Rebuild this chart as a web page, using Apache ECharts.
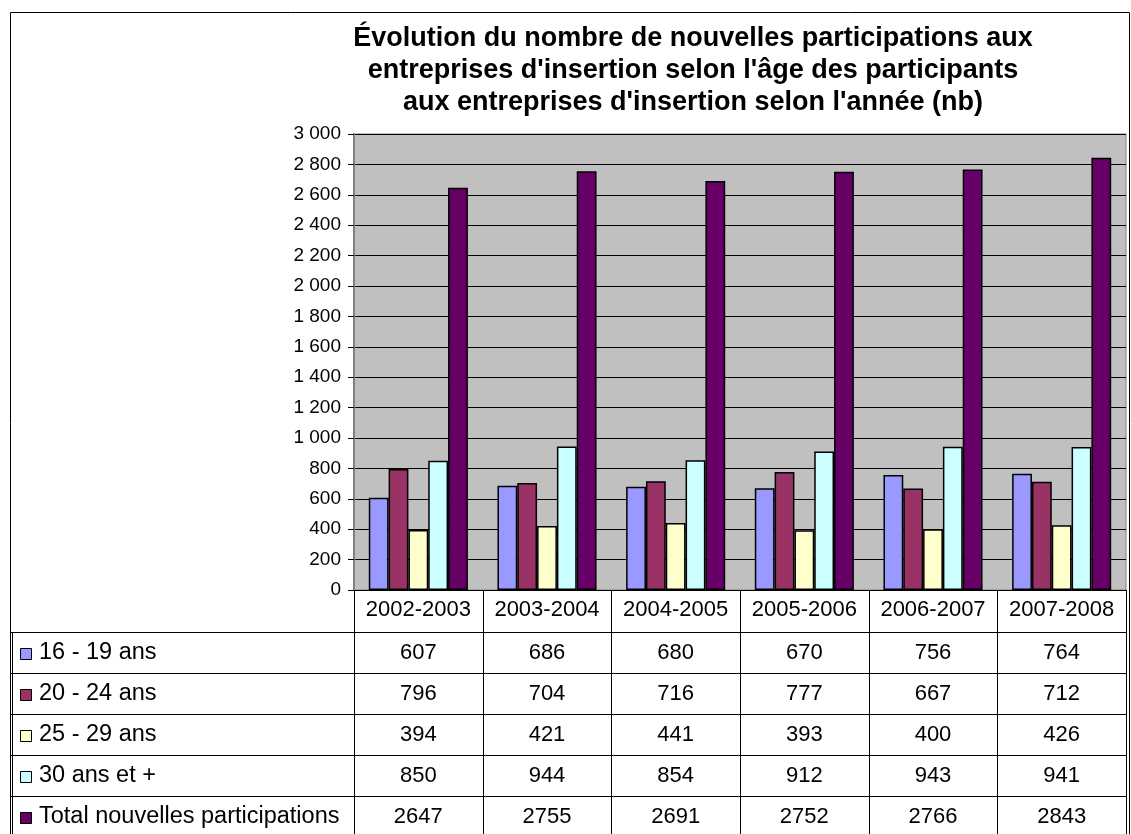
<!DOCTYPE html>
<html>
<head>
<meta charset="utf-8">
<script src="https://cdn.jsdelivr.net/npm/echarts@6/dist/echarts.min.js"></script>
<style>
  html, body { margin: 0; padding: 0; background: #fff; }
  #main { width: 1131px; height: 834px; }
</style>
</head>
<body>
<div id="main"></div>
<script>
// donnees du graphique
var categories = ['2002-2003', '2003-2004', '2004-2005', '2005-2006', '2006-2007', '2007-2008'];
var seriesNames = ['16 - 19 ans', '20 - 24 ans', '25 - 29 ans', '30 ans et +', 'Total nouvelles participations'];
var age16_19 = [607, 686, 680, 670, 756, 764];
var age20_24 = [796, 704, 716, 777, 667, 712];
var age25_29 = [394, 421, 441, 393, 400, 426];
var age30plus = [850, 944, 854, 912, 943, 941];
var totalPart = [2647, 2755, 2691, 2752, 2766, 2843];
var yTicks = [0, 200, 400, 600, 800, 1000, 1200, 1400, 1600, 1800, 2000, 2200, 2400, 2600, 2800, 3000];

var colors = ['#9999FF', '#993366', '#FFFFCC', '#CCFFFF', '#660066'];
var allValues = [age16_19, age20_24, age25_29, age30plus, totalPart];

var font = 'Arial, "Liberation Sans", sans-serif';
var gridLeft = 354, gridRight = 1126, gridTop = 134, gridBottom = 590;
var headerBottom = 632, rowH = 41;
var colW = (gridRight - gridLeft) / categories.length;

function fmt(v) {
    return String(v).replace(/\B(?=(\d{3})+(?!\d))/g, ' ');
}

var myChart = echarts.init(document.getElementById('main'));

// tableau de donnees sous le graphique
var elements = [];
// cadre exterieur
elements.push({ type: 'rect', shape: { x: 10.5, y: 12.5, width: 1119, height: 840 },
    style: { fill: 'none', stroke: '#000', lineWidth: 1 }, z: 10 });
// trait double a gauche du tableau
elements.push({ type: 'line', shape: { x1: 12.5, y1: headerBottom, x2: 12.5, y2: 840 },
    style: { stroke: '#000', lineWidth: 1 }, z: 10 });
// lignes horizontales
for (var r = 0; r <= seriesNames.length; r++) {
    var y = Math.round(headerBottom + r * rowH) + 0.5;
    elements.push({ type: 'line', shape: { x1: 10, y1: y, x2: gridRight, y2: y },
        style: { stroke: '#000', lineWidth: 1 }, z: 10 });
}
// lignes verticales
for (var c = 0; c <= categories.length; c++) {
    var x = Math.round(gridLeft + c * colW) + 0.5;
    elements.push({ type: 'line', shape: { x1: x, y1: gridBottom, x2: x, y2: 840 },
        style: { stroke: '#000', lineWidth: 1 }, z: 10 });
}
// libelles et valeurs
seriesNames.forEach(function(name, i) {
    var cy = headerBottom + i * rowH + rowH / 2;
    elements.push({ type: 'rect', shape: { x: 20.5, y: Math.round(cy - 5) + 0.5, width: 11, height: 11 },
        style: { fill: colors[i], stroke: '#000', lineWidth: 1 }, z: 11 });
    elements.push({ type: 'text', x: 39, y: cy,
        style: { text: name, font: '23.5px ' + font, fill: '#000', textVerticalAlign: 'middle' }, z: 11 });
    allValues[i].forEach(function(v, j) {
        elements.push({ type: 'text', x: gridLeft + (j + 0.5) * colW, y: cy,
            style: { text: String(v), font: '22px ' + font, fill: '#000',
                textAlign: 'center', textVerticalAlign: 'middle' }, z: 11 });
    });
});

option = {
    backgroundColor: '#fff',
    animation: false,
    title: {
        text: 'Évolution du nombre de nouvelles participations aux\nentreprises d\'insertion selon l\'âge des participants\naux entreprises d\'insertion selon l\'année (nb)',
        left: 688,
        top: 18,
        textAlign: 'center',
        textStyle: {
            fontFamily: font,
            fontSize: 27,
            fontWeight: 'bold',
            color: '#000',
            lineHeight: 32
        }
    },
    grid: {
        left: gridLeft,
        right: 1131 - gridRight,
        top: gridTop,
        bottom: 834 - gridBottom,
        show: true,
        backgroundColor: '#C0C0C0',
        borderColor: '#808080',
        borderWidth: 1
    },
    xAxis: {
        type: 'category',
        data: categories,
        axisLine: { lineStyle: { color: '#000', width: 1 } },
        axisTick: { show: false },
        axisLabel: {
            interval: 0,
            color: '#000',
            fontFamily: font,
            fontSize: 22,
            margin: 9
        }
    },
    yAxis: {
        type: 'value',
        min: 0,
        max: 3000,
        interval: 200,
        axisLine: { show: true, lineStyle: { color: '#808080', width: 2 } },
        axisTick: { show: true, length: 6, lineStyle: { color: '#000' } },
        splitLine: { lineStyle: { color: '#000', width: 1 } },
        axisLabel: {
            color: '#000',
            fontFamily: font,
            fontSize: 19,
            margin: 13,
            formatter: function(v) { return fmt(v); }
        }
    },
    series: seriesNames.map(function(name, i) {
        return {
            name: name,
            type: 'bar',
            data: allValues[i],
            barGap: '0%',
            barCategoryGap: '23%',
            itemStyle: { color: colors[i], borderColor: '#000', borderWidth: 1.5 }
        };
    }),
    graphic: { elements: elements }
};

myChart.setOption(option);
</script>
</body>
</html>
